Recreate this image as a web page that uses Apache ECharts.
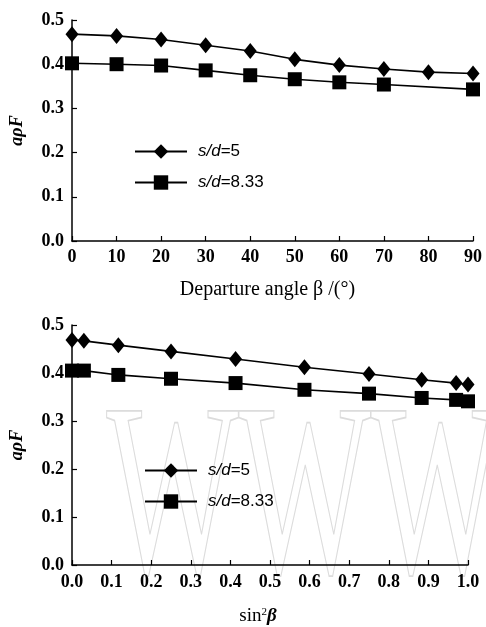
<!DOCTYPE html>
<html lang="en">
<head>
<meta charset="UTF-8">
<title>aρF vs departure angle</title>
<script src="https://cdn.jsdelivr.net/npm/echarts@6/dist/echarts.min.js"></script>
<style>
  html, body { margin: 0; padding: 0; background: #fff; }
</style>
</head>
<body>
<div id="m1" style="width: 486px;height: 627px"></div>
<script>
    // top panel: against departure angle (deg)
    var betaDeg = [0, 10, 20, 30, 40, 50, 60, 70, 80, 90];
    var sd5Top = [0.468, 0.464, 0.456, 0.443, 0.430, 0.411, 0.398, 0.389, 0.382, 0.379];
    var betaDegSq = [0, 10, 20, 30, 40, 50, 60, 70, 90];
    var sd833Top = [0.402, 0.400, 0.397, 0.386, 0.375, 0.366, 0.359, 0.354, 0.343];

    // bottom panel: against sin^2(beta)
    var sin2b = [0, 0.030, 0.117, 0.250, 0.413, 0.587, 0.750, 0.883, 0.970, 1.0];
    var sd5Bot = [0.469, 0.467, 0.458, 0.445, 0.429, 0.412, 0.398, 0.386, 0.379, 0.376];
    var sd833Bot = [0.405, 0.405, 0.396, 0.388, 0.379, 0.365, 0.357, 0.348, 0.344, 0.341];

    var names = ['s/d=5', 's/d=8.33'];

    function pairs(xs, ys) {
        var out = [];
        for (var i = 0; i < xs.length; i++) out.push([xs[i], ys[i]]);
        return out;
    }

    var serif = '"Liberation Serif", "DejaVu Serif", serif';
    var sans = '"Liberation Sans", "DejaVu Sans", sans-serif';
    var labelStyle = {color: '#000', fontFamily: serif, fontSize: 18, fontWeight: 'bold'};
    var axisLine = {lineStyle: {color: '#000', width: 1.5}};
    var ticks = {inside: true, length: 5, lineStyle: {color: '#000', width: 1.2}};

    function yAxis(idx) {
        return {
            type: 'value', gridIndex: idx, min: 0, max: 0.5, interval: 0.1,
            name: 'aρF', nameLocation: 'middle', nameGap: 46, nameRotate: 90,
            nameTextStyle: {color: '#000', fontFamily: serif, fontSize: 18, fontWeight: 'bold', fontStyle: 'italic'},
            axisLine: {show: true, lineStyle: axisLine.lineStyle},
            axisTick: ticks,
            splitLine: {show: false},
            axisLabel: Object.assign({margin: 8, formatter: function (v) { return v.toFixed(1); }}, labelStyle)
        };
    }

    function lineSeries(name, idx, data, symbol, size) {
        return {
            name: name, type: 'line', xAxisIndex: idx, yAxisIndex: idx,
            data: data, symbol: symbol, symbolSize: size,
            lineStyle: {color: '#000', width: 1.6},
            itemStyle: {color: '#000'},
            animation: false
        };
    }

    function legend(left, top) {
        return {
            orient: 'vertical', left: left, top: top, itemWidth: 52, itemHeight: 18, itemGap: 14,
            data: names, selectedMode: false,
            formatter: function (n) { return '{i|s/d}' + n.slice(3); },
            textStyle: {
                color: '#000', fontFamily: sans, fontSize: 17, padding: [0, 0, 0, 6],
                rich: {i: {fontFamily: sans, fontSize: 17, fontStyle: 'italic', color: '#000'}}
            }
        };
    }

    var my1 = echarts.init(document.getElementById('m1'));
    var option1 = {
        backgroundColor: '#fff',
        animation: false,
        grid: [
            {left: 72, right: 13, top: 20, height: 221},
            {left: 71, right: 18, top: 325, height: 243}
        ],
        legend: [legend(129, 138), legend(139, 457)],
        xAxis: [
            {
                type: 'value', gridIndex: 0, min: 0, max: 90, interval: 10,
                name: 'Departure angle β /(°)', nameLocation: 'middle', nameGap: 39,
                nameTextStyle: {color: '#000', fontFamily: serif, fontSize: 20, padding: [0, 10, 0, 0]},
                axisLine: axisLine, axisTick: ticks, splitLine: {show: false},
                axisLabel: Object.assign({margin: 7}, labelStyle)
            },
            {
                type: 'value', gridIndex: 1, min: 0, max: 1, interval: 0.1,
                name: 'sin{sup|2}{it|β}', nameLocation: 'middle', nameGap: 42,
                nameTextStyle: {
                    color: '#000', fontFamily: serif, fontSize: 19, padding: [0, 24, 0, 0],
                    rich: {
                        sup: {fontSize: 11, fontFamily: serif, verticalAlign: 'top', padding: [0, 0, 8, 0]},
                        it: {fontSize: 19, fontFamily: serif, fontStyle: 'italic', fontWeight: 'bold'}
                    }
                },
                axisLine: axisLine, axisTick: ticks, splitLine: {show: false},
                axisLabel: Object.assign({margin: 8, formatter: function (v) { return v.toFixed(1); }}, labelStyle)
            }
        ],
        yAxis: [yAxis(0), yAxis(1)],
        graphic: [
            {
                type: 'text', left: 106, top: 384, silent: true, z: -1,
                scaleY: 1.75,
                style: {
                    text: 'WWW', font: '140px "Liberation Serif", serif',
                    fill: 'rgba(0,0,0,0)', stroke: '#dcdcdc', lineWidth: 1
                }
            }
        ],
        series: [
            lineSeries(names[0], 0, pairs(betaDeg, sd5Top), 'diamond', [13, 16]),
            lineSeries(names[1], 0, pairs(betaDegSq, sd833Top), 'rect', 14),
            lineSeries(names[0], 1, pairs(sin2b, sd5Bot), 'diamond', [13, 16]),
            lineSeries(names[1], 1, pairs(sin2b, sd833Bot), 'rect', 14)
        ]
    };
    my1.setOption(option1);
</script>
</body>
</html>
